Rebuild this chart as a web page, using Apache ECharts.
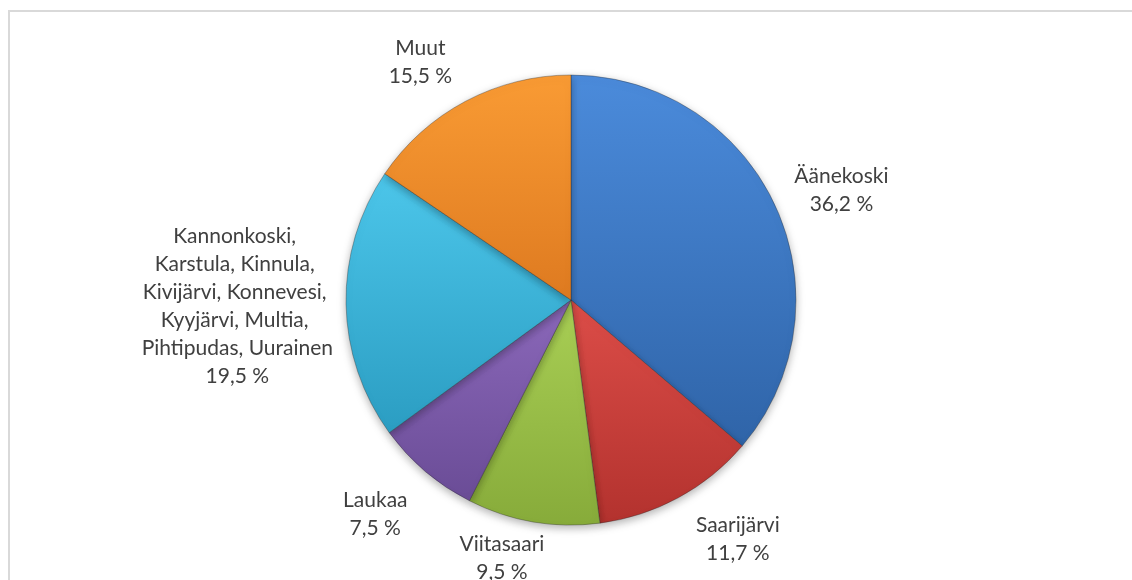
<!DOCTYPE html>
<html>
<head>
<meta charset="utf-8">
<script src="https://cdn.jsdelivr.net/npm/echarts@6/dist/echarts.min.js"></script>
<style>
  html, body { margin: 0; padding: 0; background: #fff; }
  #chart { width: 1132px; height: 580px; }
</style>
</head>
<body>
<div id="chart"></div>
<script>
// share of each area, percent
const categories = [
  "Äänekoski",
  "Saarijärvi",
  "Viitasaari",
  "Laukaa",
  "Kannonkoski, \nKarstula, Kinnula, \nKivijärvi, Konnevesi, \nKyyjärvi, Multia, \nPihtipudas, Uurainen",
  "Muut",
];
const shares = [36.2, 11.7, 9.5, 7.5, 19.5, 15.5];

// light (top) / dark (bottom) colour of each slice
const topColors = ["#4b8bdb", "#dc4d48", "#a9cf55", "#8b68ba", "#4cc6ea", "#f99b34"];
const bottomColors = ["#2f64a8", "#b3322e", "#87ab3a", "#6a4c96", "#2b9dc2", "#de7a20"];

// small hand tweaks to the label spots (Excel "best fit" is not on the mid angle)
const labelNudge = [[4, 13], [33, -8], [-24, -5], [-14, 0], [0, 0], [-21, 7]];

const CX = 571;
const CY = 300;
const R = 225;

const total = shares.reduce((a, b) => a + b, 0);

// mid angle of slice i, clockwise from 12 o'clock
function midAngle(i) {
  let before = 0;
  for (let k = 0; k < i; k++) before += shares[k];
  return ((before + shares[i] / 2) / total) * Math.PI * 2;
}

// put the label box just outside the circle, along the slice's mid angle
function placeLabel(params) {
  const i = params.dataIndex;
  const a = midAngle(i);
  const ux = Math.sin(a);
  const uy = -Math.cos(a);
  const hw = params.labelRect.width / 2 + 7;
  const hh = params.labelRect.height / 2 + 4;
  const target = R + 6;
  let lo = 0;
  let hi = 600;
  for (let n = 0; n < 40; n++) {
    const d = (lo + hi) / 2;
    const ex = Math.max(Math.abs(d * ux) - hw, 0);
    const ey = Math.max(Math.abs(d * uy) - hh, 0);
    if (Math.sqrt(ex * ex + ey * ey) < target) lo = d;
    else hi = d;
  }
  return {
    x: CX + lo * ux + labelNudge[i][0],
    y: CY + lo * uy + labelNudge[i][1],
    align: "center",
    verticalAlign: "middle",
  };
}

const chart = echarts.init(document.getElementById("chart"));

const option = {
  backgroundColor: "#ffffff",
  animation: false,
  textStyle: { fontFamily: "Lato" },
  graphic: [
    {
      type: "rect",
      shape: { x: 9, y: 11, width: 1300, height: 800 },
      style: { fill: "none", stroke: "#d9d9d9", lineWidth: 2 },
      silent: true,
    },
  ],
  series: [
    {
      type: "pie",
      center: [CX, CY],
      radius: R,
      startAngle: 90,
      clockwise: true,
      data: categories.map((name, i) => ({
        name,
        value: shares[i],
        itemStyle: {
          color: {
            type: "linear",
            x: 0, y: 0, x2: 0, y2: 1,
            colorStops: [
              { offset: 0, color: topColors[i] },
              { offset: 1, color: bottomColors[i] },
            ],
          },
        },
      })),
      itemStyle: {
        borderColor: "rgba(40,40,40,0.35)",
        borderWidth: 1,
        shadowBlur: 8,
        shadowOffsetY: 3,
        shadowColor: "rgba(0,0,0,0.3)",
      },
      label: {
        show: true,
        position: "outside",
        overflow: "none",
        color: "#404040",
        fontFamily: "Lato",
        fontSize: 21,
        lineHeight: 28,
        formatter: (p) => p.name + "\n" + p.value.toFixed(1).replace(".", ",") + " %",
      },
      labelLine: { show: false },
      labelLayout: placeLabel,
      emphasis: { disabled: true },
    },
  ],
};

chart.setOption(option);
</script>
</body>
</html>
